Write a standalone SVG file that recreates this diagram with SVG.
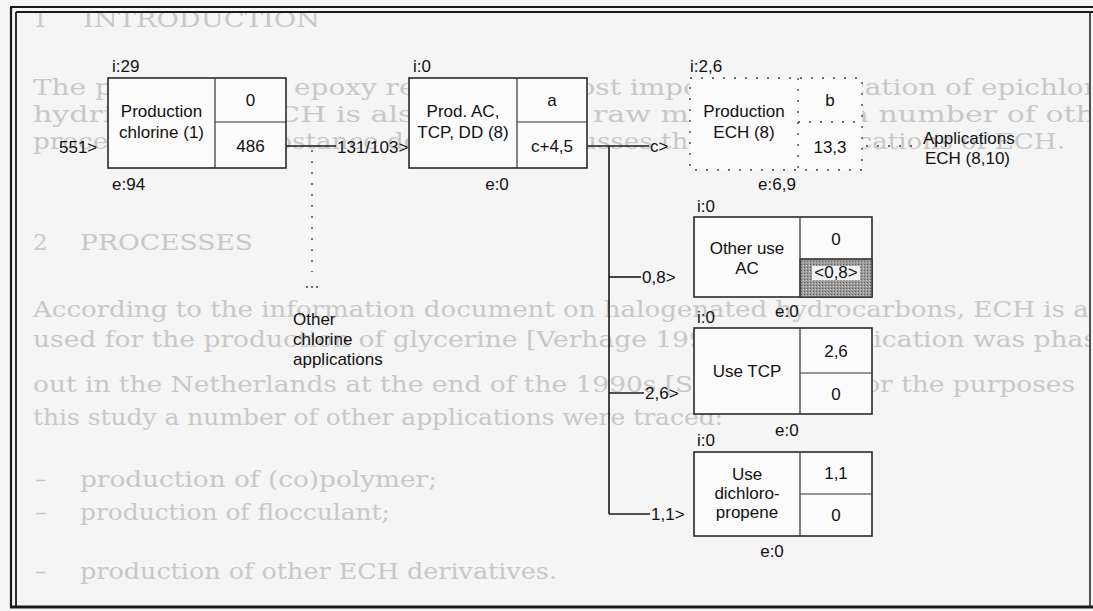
<svg xmlns="http://www.w3.org/2000/svg" width="1093" height="611" viewBox="0 0 1093 611">
<style>
.bg{font-family:"DejaVu Serif","Liberation Serif",serif;font-size:23px;fill:#c8c8c8}
.t{font-family:"Liberation Sans",Arial,sans-serif;font-size:17px;fill:#111}
.m{text-anchor:middle}
.box{fill:#fbfbfb;stroke:#2a2a2a;stroke-width:1.6}
.div{stroke:#333;stroke-width:1.2;fill:none}
.dot{fill:#fbfbfb;stroke:#444;stroke-width:1.4;stroke-dasharray:2 9}
.dotl{stroke:#444;stroke-width:1.4;stroke-dasharray:2 9;fill:none}
.ln{stroke:#1a1a1a;stroke-width:1.6;fill:none}
.fr{stroke:#1a1a1a;fill:none}
</style>
<defs>
<clipPath id="clip"><rect x="17" y="13" width="1072" height="592"/></clipPath>
<pattern id="stip" width="3" height="3" patternUnits="userSpaceOnUse"><rect width="3" height="3" fill="#9c9c9c"/><rect width="1" height="1" fill="#5a5a5a"/><rect x="2" y="1" width="1" height="1" fill="#c8c8c8"/></pattern>
</defs>
<rect width="1093" height="611" fill="#f5f5f5"/>

<g id="page-text" clip-path="url(#clip)">
<text class="bg" x="33" y="27">1</text>
<text class="bg" x="83" y="27" textLength="237" lengthAdjust="spacingAndGlyphs">INTRODUCTION</text>
<text class="bg" x="33" y="95" textLength="1064" lengthAdjust="spacingAndGlyphs">The production of epoxy resin is the most important application of epichlor</text>
<text class="bg" x="33" y="122" textLength="1062" lengthAdjust="spacingAndGlyphs">hydrin (ECH). ECH is also used as a raw material for a number of oth</text>
<text class="bg" x="33" y="149" textLength="1032" lengthAdjust="spacingAndGlyphs">processes. This substance document discusses the other applications of ECH.</text>
<text class="bg" x="33" y="250">2</text>
<text class="bg" x="80" y="250" textLength="173" lengthAdjust="spacingAndGlyphs">PROCESSES</text>
<text class="bg" x="33" y="317" textLength="1064" lengthAdjust="spacingAndGlyphs">According to the information document on halogenated hydrocarbons, ECH is al</text>
<text class="bg" x="33" y="347" textLength="1064" lengthAdjust="spacingAndGlyphs">used for the production of glycerine [Verhage 1991]. This application was phas</text>
<text class="bg" x="33" y="392" textLength="1042" lengthAdjust="spacingAndGlyphs">out in the Netherlands at the end of the 1990s [SPIN 1995]. For the purposes</text>
<text class="bg" x="33" y="425" textLength="690" lengthAdjust="spacingAndGlyphs">this study a number of other applications were traced:</text>
<text class="bg" x="35" y="487">–</text>
<text class="bg" x="80" y="487" textLength="357" lengthAdjust="spacingAndGlyphs">production of (co)polymer;</text>
<text class="bg" x="35" y="520">–</text>
<text class="bg" x="80" y="520" textLength="310" lengthAdjust="spacingAndGlyphs">production of flocculant;</text>
<text class="bg" x="35" y="579">–</text>
<text class="bg" x="80" y="579" textLength="477" lengthAdjust="spacingAndGlyphs">production of other ECH derivatives.</text>
</g>

<g id="frame">
<line class="fr" x1="11" y1="7" x2="11" y2="608" stroke-width="2.2"/>
<line class="fr" x1="16" y1="12" x2="16" y2="606" stroke-width="1.8"/>
<line class="fr" x1="10" y1="7" x2="1093" y2="7" stroke-width="2.2"/>
<line class="fr" x1="16" y1="12" x2="1093" y2="12" stroke-width="1.8"/>
<line class="fr" x1="1090" y1="12" x2="1090" y2="607" stroke-width="1.5"/>
<line class="fr" x1="10" y1="607" x2="1093" y2="607" stroke-width="3"/>
</g>

<g id="connectors">
<line class="ln" x1="286" y1="146" x2="336" y2="146"/>
<line class="dotl" x1="312" y1="150" x2="312" y2="272" stroke-dasharray="2 18"/>
<circle cx="307" cy="287" r="0.9" fill="#333"/><circle cx="312" cy="287" r="0.9" fill="#333"/><circle cx="317" cy="287" r="0.9" fill="#333"/>
<line class="ln" x1="587" y1="146" x2="649" y2="146"/>
<line class="ln" x1="609" y1="146" x2="609" y2="514"/>
<line class="ln" x1="609" y1="277" x2="641" y2="277"/>
<line class="ln" x1="609" y1="393" x2="644" y2="393"/>
<line class="ln" x1="609" y1="514" x2="650" y2="514"/>
<line class="dotl" x1="866" y1="146" x2="920" y2="146" stroke-dasharray="4 6"/>
<text class="t" x="59" y="153">551&gt;</text>
<text class="t" x="337" y="153">131/103&gt;</text>
<text class="t" x="650" y="152">c&gt;</text>
<text class="t" x="642" y="283">0,8&gt;</text>
<text class="t" x="645" y="399">2,6&gt;</text>
<text class="t" x="651" y="520">1,1&gt;</text>
</g>

<g id="production-chlorine">
<rect class="box" x="108" y="78" width="178" height="90"/>
<line class="div" x1="215" y1="78" x2="215" y2="168"/>
<line class="div" x1="215" y1="122" x2="286" y2="122"/>
<text class="t m" x="161.5" y="117">Production</text>
<text class="t m" x="161.5" y="138">chlorine (1)</text>
<text class="t m" x="250.5" y="106">0</text>
<text class="t m" x="250.5" y="152">486</text>
<text class="t" x="112" y="72">i:29</text>
<text class="t" x="112" y="190">e:94</text>
</g>

<g id="other-chlorine">
<text class="t" x="293" y="325">Other</text>
<text class="t" x="293" y="345">chlorine</text>
<text class="t" x="293" y="365">applications</text>
</g>

<g id="prod-ac">
<rect class="box" x="409" y="78" width="178" height="90"/>
<line class="div" x1="517" y1="78" x2="517" y2="168"/>
<line class="div" x1="517" y1="122" x2="587" y2="122"/>
<text class="t m" x="463" y="117">Prod. AC,</text>
<text class="t m" x="463" y="138">TCP, DD (8)</text>
<text class="t m" x="552" y="106">a</text>
<text class="t m" x="552" y="152">c+4,5</text>
<text class="t" x="413" y="72">i:0</text>
<text class="t m" x="497" y="190">e:0</text>
</g>

<g id="production-ech">
<rect class="dot" x="690" y="78" width="172" height="92"/>
<line class="dotl" x1="798" y1="78" x2="798" y2="170"/>
<line class="dotl" x1="798" y1="122" x2="862" y2="122"/>
<text class="t m" x="744" y="117">Production</text>
<text class="t m" x="744" y="138">ECH (8)</text>
<text class="t m" x="830" y="106">b</text>
<text class="t m" x="830" y="153">13,3</text>
<text class="t" x="690" y="72">i:2,6</text>
<text class="t m" x="777" y="190">e:6,9</text>
</g>

<g id="applications-ech">
<text class="t" x="923" y="144">Applications</text>
<text class="t" x="925" y="164">ECH (8,10)</text>
</g>

<g id="other-use-ac">
<rect class="box" x="694" y="217" width="178" height="80"/>
<rect x="800" y="259" width="72" height="38" fill="url(#stip)" stroke="#333" stroke-width="1.2"/>
<rect x="812" y="266" width="48" height="14" fill="#f2f2f2"/>
<line class="div" x1="800" y1="217" x2="800" y2="297"/>
<line class="div" x1="800" y1="259" x2="872" y2="259"/>
<text class="t m" x="747" y="254">Other use</text>
<text class="t m" x="747" y="274">AC</text>
<text class="t m" x="836" y="245">0</text>
<text class="t m" x="836" y="278" font-size="15">&lt;0,8&gt;</text>
<text class="t" x="697" y="212">i:0</text>
<text class="t" x="775" y="317">e:0</text>
</g>

<g id="use-tcp">
<rect class="box" x="694" y="328" width="178" height="86"/>
<line class="div" x1="800" y1="328" x2="800" y2="414"/>
<line class="div" x1="800" y1="373" x2="872" y2="373"/>
<text class="t m" x="747" y="377">Use TCP</text>
<text class="t m" x="836" y="357">2,6</text>
<text class="t m" x="836" y="400">0</text>
<text class="t" x="697" y="323">i:0</text>
<text class="t" x="775" y="436">e:0</text>
</g>

<g id="use-dichloropropene">
<rect class="box" x="694" y="452" width="178" height="84"/>
<line class="div" x1="800" y1="452" x2="800" y2="536"/>
<line class="div" x1="800" y1="494" x2="872" y2="494"/>
<text class="t m" x="747" y="480">Use</text>
<text class="t m" x="747" y="499">dichloro-</text>
<text class="t m" x="747" y="518">propene</text>
<text class="t m" x="836" y="479">1,1</text>
<text class="t m" x="836" y="521">0</text>
<text class="t" x="697" y="446">i:0</text>
<text class="t m" x="772" y="557">e:0</text>
</g>
</svg>
